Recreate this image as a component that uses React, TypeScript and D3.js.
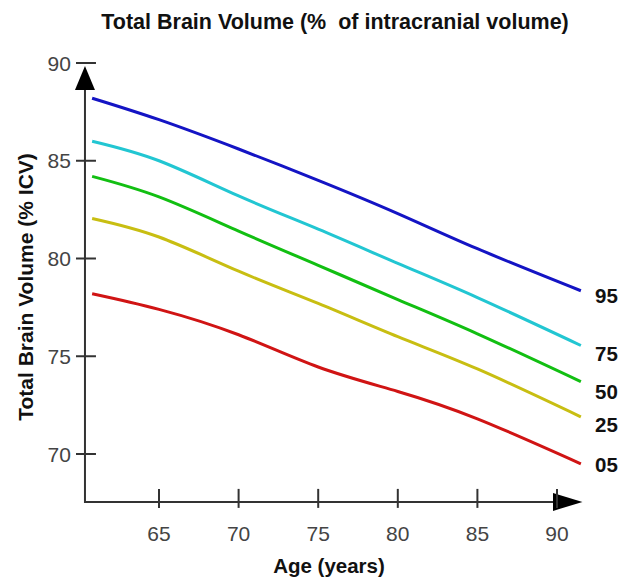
import React from "react";
import * as d3 from "d3";

const W = 622;
const H = 579;

// ages
const ages = [60.8, 65, 70, 75, 80, 85, 91.5];

const p95 = [88.2, 87.1, 85.6, 84.0, 82.3, 80.5, 78.35];
const p75 = [86.0, 85.0, 83.2, 81.5, 79.75, 78.0, 75.55];
const p50 = [84.2, 83.15, 81.4, 79.65, 77.9, 76.15, 73.7];
const p25 = [82.05, 81.1, 79.35, 77.7, 76.0, 74.35, 71.9];
const p05 = [78.2, 77.4, 76.1, 74.45, 73.2, 71.8, 69.5];

const series = [
  { label: "95", values: p95, color: "#1414c4" },
  { label: "75", values: p75, color: "#22c6d2" },
  { label: "50", values: p50, color: "#12bf12" },
  { label: "25", values: p25, color: "#c8be12" },
  { label: "05", values: p05, color: "#d01414" },
];

const xTicks = [65, 70, 75, 80, 85, 90];
const yTicks = [70, 75, 80, 85, 90];

const AXIS = "#333";
const TICK_TEXT = "#444";
const FONT = "'Liberation Sans', Arial, sans-serif";

export default function App() {
  const x = d3.scaleLinear().domain([65, 90]).range([159, 557]);
  const y = d3.scaleLinear().domain([70, 90]).range([454, 63]);

  const x0 = x(60.35);
  const y0 = y(67.55);
  const xEnd = x(91.6);

  const line = d3
    .line<number>()
    .x((_, i) => x(ages[i]))
    .y((d) => y(d))
    .curve(d3.curveNatural);

  const labelY = [303, 361, 399, 432, 472];

  return (
    <svg
      width={W}
      height={H}
      style={{ position: "absolute", left: 0, top: 0, background: "#fff" }}
      fontFamily={FONT}
    >
      <text
        x={335}
        y={29}
        textAnchor="middle"
        fontSize={21.5}
        fontWeight="bold"
        fill="#111"
        xmlSpace="preserve"
        style={{ whiteSpace: "pre" }}
      >
        Total Brain Volume (%  of intracranial volume)
      </text>

      {/* axes */}
      <line x1={x0} y1={y0} x2={xEnd - 5} y2={y0} stroke={AXIS} strokeWidth={2} />
      <line x1={x0} y1={y0 + 1} x2={x0} y2={y(90) + 8} stroke={AXIS} strokeWidth={2} />
      <path
        d={`M${x0 - 10},${y(90) + 27} L${x0},${y(90) + 3} L${x0 + 10},${y(90) + 27} Z`}
        fill="#000"
      />
      <path
        d={`M${x(90) - 4},${y0 - 9} L${xEnd},${y0} L${x(90) - 4},${y0 + 9} Z`}
        fill="#000"
      />

      {yTicks.map((t) => (
        <g key={t}>
          <line x1={x0 - 9} x2={x0 + 11} y1={y(t)} y2={y(t)} stroke={AXIS} strokeWidth={2} />
          <text
            x={x0 - 14}
            y={y(t)}
            dy="0.36em"
            textAnchor="end"
            fontSize={21}
            fill={TICK_TEXT}
          >
            {t}
          </text>
        </g>
      ))}

      {xTicks.map((t) => (
        <g key={t}>
          <line x1={x(t)} x2={x(t)} y1={y0 - 13} y2={y0 + 6} stroke={AXIS} strokeWidth={2} />
          <text x={x(t)} y={541} textAnchor="middle" fontSize={21} fill={TICK_TEXT}>
            {t}
          </text>
        </g>
      ))}

      {series.map((s) => (
        <path
          key={s.label}
          d={line(s.values) || ""}
          fill="none"
          stroke={s.color}
          strokeWidth={3}
        />
      ))}

      {series.map((s, i) => (
        <text key={s.label} x={595} y={labelY[i]} fontSize={20.5} fontWeight="bold" fill="#111">
          {s.label}
        </text>
      ))}

      <text x={329} y={573} textAnchor="middle" fontSize={20.5} fontWeight="bold" fill="#111">
        Age (years)
      </text>
      <text
        transform={`translate(33,287) rotate(-90)`}
        textAnchor="middle"
        fontSize={21}
        fontWeight="bold"
        fill="#111"
      >
        Total Brain Volume (% ICV)
      </text>
    </svg>
  );
}
